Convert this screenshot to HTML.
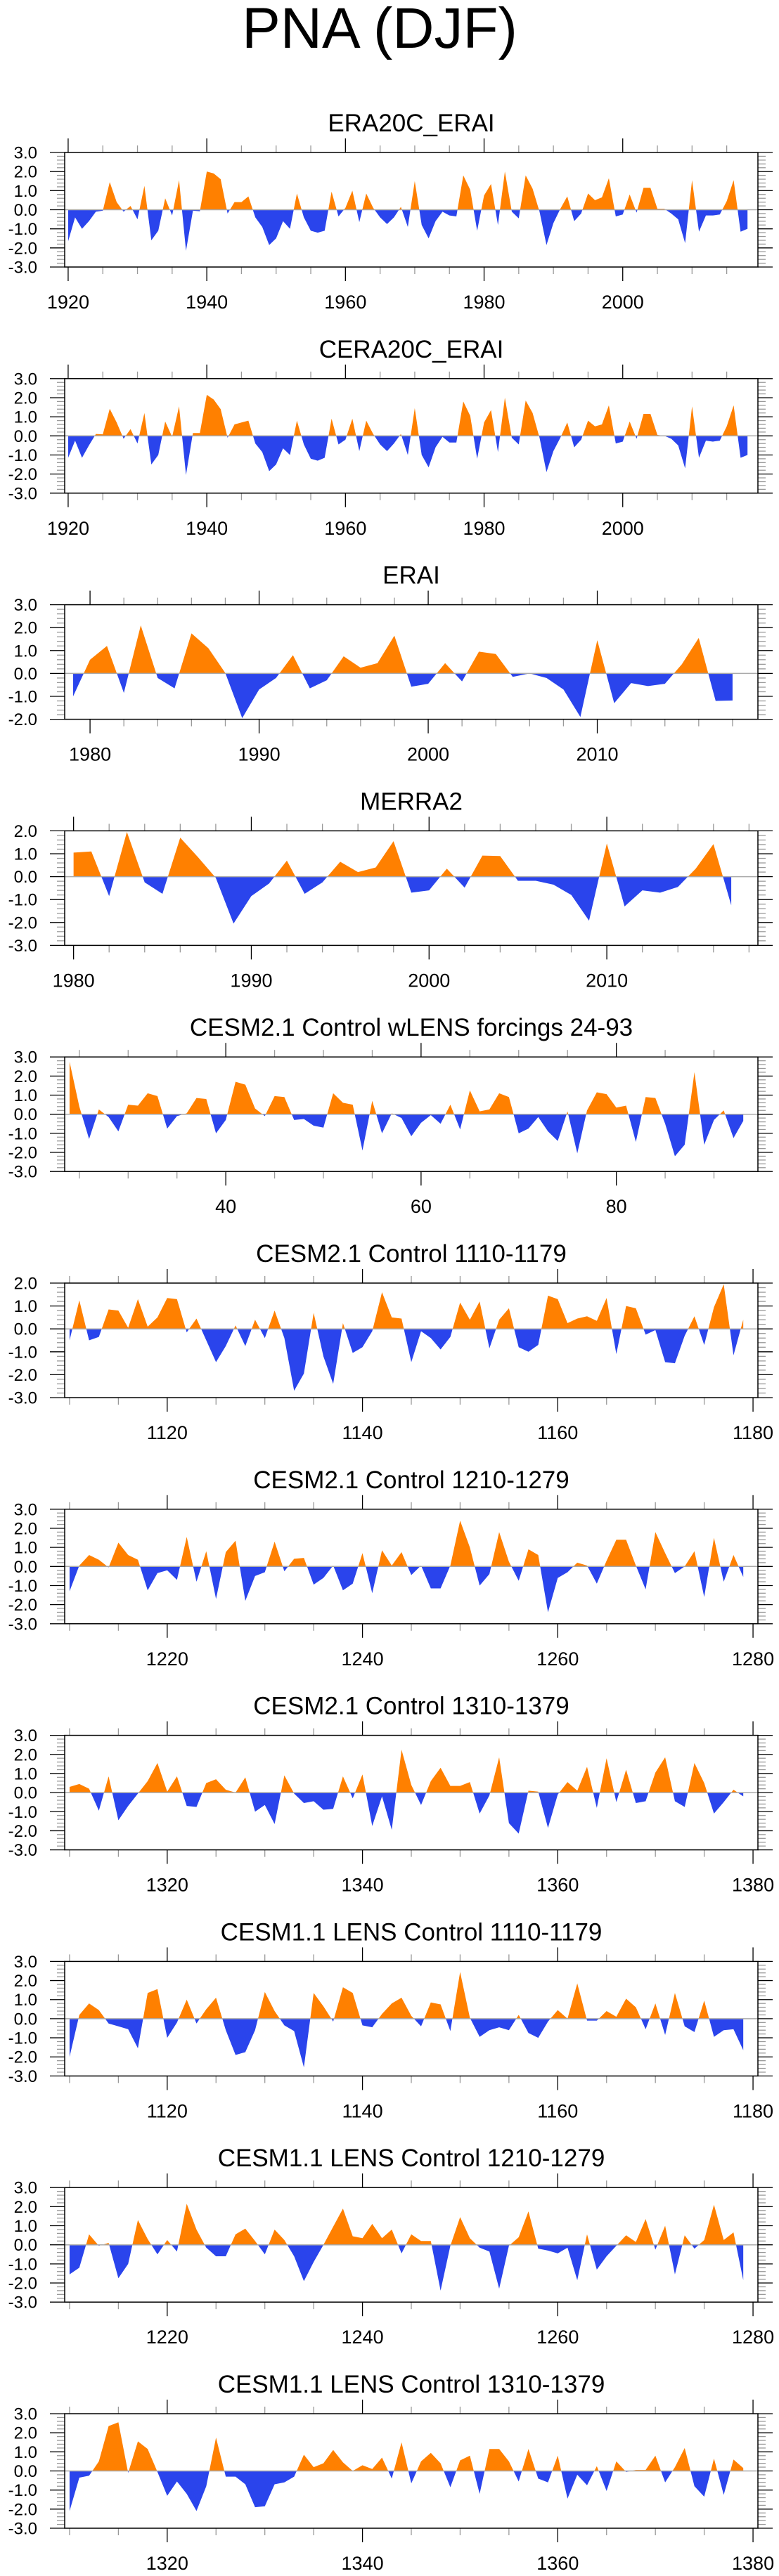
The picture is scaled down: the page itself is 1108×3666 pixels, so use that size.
<!DOCTYPE html>
<html><head><meta charset="utf-8">
<style>
html,body{margin:0;padding:0;background:#fff;}
svg{display:block;font-family:"Liberation Sans",Arial,sans-serif;}
</style></head>
<body>
<svg id="fig" width="1108" height="3666" viewBox="0 0 1108 3666" xmlns="http://www.w3.org/2000/svg">
<rect x="0" y="0" width="1108" height="3666" fill="#fff"/>
<text x="540" y="68" font-size="82" text-anchor="middle" fill="#000">PNA (DJF)</text>
</svg>
<script>
const era20cVals=[-1.65,-0.4,-1.0,-0.6,-0.1,-0.05,1.45,0.4,-0.1,0.2,-0.5,1.25,-1.6,-1.1,0.6,-0.3,1.55,-2.15,-0.05,-0.08,2.0,1.9,1.6,-0.2,0.4,0.4,0.7,-0.4,-0.9,-1.85,-1.5,-0.6,-1.0,0.85,-0.4,-1.1,-1.2,-1.1,0.95,-0.35,0.1,1.0,-0.65,0.85,0.1,-0.4,-0.75,-0.4,0.15,-0.9,1.5,-0.8,-1.5,-0.6,-0.1,-0.3,-0.35,1.8,1.05,-1.1,0.75,1.35,-0.8,2.0,-0.1,-0.45,1.8,1.1,-0.1,-1.85,-0.7,0.05,0.7,-0.6,-0.2,0.85,0.5,0.65,1.65,-0.35,-0.25,0.8,-0.15,1.15,1.15,0.05,0.05,-0.2,-0.5,-1.75,1.55,-1.15,-0.3,-0.3,-0.25,0.45,1.55,-1.15,-1.0];
const cera20cVals=[-1.15,-0.25,-1.15,-0.5,0.1,0.08,1.42,0.7,-0.15,0.35,-0.4,1.2,-1.5,-1.0,0.75,-0.05,1.55,-2.05,0.15,0.15,2.15,1.9,1.4,-0.1,0.6,0.7,0.8,-0.4,-0.85,-1.85,-1.5,-0.65,-1.0,0.8,-0.45,-1.2,-1.3,-1.15,0.9,-0.45,-0.2,0.9,-0.8,0.8,0.1,-0.45,-0.8,-0.4,0.1,-1.0,1.45,-1.0,-1.65,-0.6,-0.05,-0.35,-0.35,1.8,1.05,-1.2,0.7,1.35,-0.85,2.0,-0.1,-0.45,1.85,1.2,-0.1,-1.9,-0.8,-0.1,0.7,-0.6,-0.2,0.8,0.5,0.6,1.6,-0.4,-0.3,0.75,-0.15,1.15,1.15,0.05,0.0,-0.15,-0.5,-1.7,1.55,-1.15,-0.25,-0.3,-0.25,0.5,1.6,-1.15,-1.0];
const eraiVals=[-1.0,0.6,1.2,-0.85,2.1,-0.2,-0.65,1.75,1.1,0.02,-1.95,-0.7,-0.2,0.8,-0.65,-0.3,0.75,0.25,0.45,1.65,-0.58,-0.45,0.45,-0.35,0.95,0.85,-0.15,0.0,-0.2,-0.7,-1.9,1.45,-1.3,-0.42,-0.55,-0.45,0.4,1.55,-1.2,-1.18];
const merra2Vals=[1.05,1.1,-0.85,1.95,-0.25,-0.75,1.7,0.85,-0.05,-2.05,-0.85,-0.3,0.7,-0.75,-0.25,0.65,0.2,0.4,1.55,-0.7,-0.6,0.35,-0.48,0.92,0.9,-0.18,-0.18,-0.35,-0.8,-1.92,1.45,-1.3,-0.6,-0.7,-0.45,0.35,1.42,-1.25];
const wlensVals=[2.75,0.4,-1.3,0.25,-0.15,-0.9,0.5,0.45,1.1,0.95,-0.75,-0.1,0.05,0.85,0.8,-1.0,-0.3,1.7,1.55,0.3,-0.1,0.95,0.9,-0.3,-0.25,-0.6,-0.7,1.1,0.6,0.5,-1.9,0.7,-1.0,0.05,-0.2,-1.15,-0.45,-0.05,-0.5,0.5,-0.8,1.25,0.15,0.25,1.1,0.9,-1.0,-0.75,-0.15,-0.9,-1.4,0.15,-2.05,0.2,1.15,1.05,0.35,0.45,-1.45,0.9,0.85,-0.5,-2.2,-1.6,2.2,-1.6,-0.3,0.2,-1.25,-0.35];
const cesm2aVals=[-0.5,1.25,-0.5,-0.35,0.85,0.8,0.05,1.3,0.1,0.5,1.35,1.3,-0.15,0.45,-0.5,-1.45,-0.75,0.15,-0.75,0.4,-0.4,0.8,-0.4,-2.7,-1.95,0.7,-1.2,-2.4,0.25,-1.05,-0.8,-0.1,1.6,0.5,0.45,-1.45,-0.1,-0.4,-0.9,-0.35,1.15,0.4,1.2,-0.85,0.4,0.9,-0.8,-1.0,-0.7,1.45,1.3,0.25,0.45,0.55,0.35,1.35,-1.1,1.0,0.9,-0.25,-0.05,-1.45,-1.5,-0.3,0.55,-0.7,0.95,1.95,-1.15,0.4];
const cesm2bVals=[-1.3,0.05,0.6,0.35,-0.05,1.25,0.6,0.35,-1.25,-0.35,-0.2,-0.7,1.55,-0.8,0.8,-1.7,0.75,1.35,-1.8,-0.5,-0.3,1.3,-0.25,0.4,0.45,-0.95,-0.6,0.05,-1.25,-0.9,0.7,-1.4,0.85,0.05,0.75,-0.45,0.05,-1.15,-1.15,0.05,2.4,1.0,-1.0,-0.4,1.8,0.25,-0.75,0.9,0.6,-2.4,-0.6,-0.3,0.2,0.05,-0.9,0.3,1.4,1.4,0.05,-1.2,1.8,0.7,-0.35,0.0,0.8,-1.6,1.5,-0.8,0.6,-0.55];
const cesm2cVals=[0.3,0.45,0.2,-0.95,0.85,-1.45,-0.7,-0.05,0.6,1.55,0.05,0.85,-0.7,-0.75,0.5,0.7,0.15,0.0,0.8,-1.0,-0.65,-1.65,0.9,-0.05,-0.55,-0.45,-0.9,-0.85,0.85,-0.3,0.95,-1.75,-0.2,-1.95,2.25,0.4,-0.65,0.6,1.3,0.35,0.35,0.55,-1.1,-0.15,1.85,-1.6,-2.15,0.1,0.05,-1.85,-0.1,0.55,0.1,1.35,-0.8,1.8,-0.5,1.2,-0.55,-0.45,1.05,1.85,-0.45,-0.75,1.55,0.5,-1.1,-0.5,0.15,-0.2];
const cesm1aVals=[-2.0,0.2,0.8,0.45,-0.25,-0.4,-0.55,-1.55,1.35,1.55,-1.0,-0.2,1.0,-0.25,0.5,1.1,-0.6,-1.9,-1.75,-0.6,1.4,0.4,-0.35,-0.65,-2.55,1.35,0.65,-0.15,1.65,1.35,-0.35,-0.45,0.25,0.8,1.1,0.15,-0.4,0.85,0.75,-0.65,2.45,0.05,-0.95,-0.6,-0.45,-0.6,0.2,-0.75,-1.0,-0.15,0.45,0.0,1.85,-0.1,-0.1,0.4,0.1,1.05,0.6,-0.55,0.8,-0.85,1.35,-0.4,-0.7,0.95,-0.95,-0.6,-0.55,-1.65];
const cesm1bVals=[-1.55,-1.2,0.55,-0.05,0.1,-1.75,-1.0,1.3,0.3,-0.5,0.25,-0.35,2.15,0.8,-0.15,-0.6,-0.6,0.55,0.85,0.2,-0.5,0.8,0.25,-0.6,-1.9,-0.9,0.0,0.95,1.9,0.45,0.35,1.1,0.35,0.8,-0.45,0.55,0.2,0.2,-2.4,-0.05,1.45,0.35,-0.15,-0.35,-2.3,-0.05,0.4,1.75,-0.2,-0.3,-0.45,-0.15,-1.85,0.55,-1.3,-0.6,-0.05,0.5,0.15,1.35,-0.25,1.0,-1.55,0.5,-0.2,0.25,2.1,0.25,0.65,-1.85];
const cesm1cVals=[-2.1,-0.35,-0.25,0.5,2.35,2.55,-0.1,1.55,1.15,-0.05,-1.3,-0.55,-1.2,-2.1,-0.8,1.75,-0.3,-0.3,-0.7,-1.9,-1.85,-0.7,-0.6,-0.3,0.85,0.2,0.4,1.1,0.45,0.0,0.3,0.1,0.7,-0.4,1.5,-0.65,0.5,0.95,0.4,-0.85,0.55,0.8,-1.2,1.15,1.15,0.5,-0.55,1.15,-0.4,-0.6,0.8,-1.45,-0.2,-0.75,0.25,-1.05,0.5,-0.05,0.05,0.05,0.8,-0.6,0.2,1.2,-0.8,-1.35,0.65,-1.25,0.6,0.15];
const panelTitles=["ERA20C_ERAI","CERA20C_ERAI","ERAI","MERRA2","CESM2.1 Control wLENS forcings 24-93","CESM2.1 Control 1110-1179","CESM2.1 Control 1210-1279","CESM2.1 Control 1310-1379","CESM1.1 LENS Control 1110-1179","CESM1.1 LENS Control 1210-1279","CESM1.1 LENS Control 1310-1379"];
const panelSeries=[era20cVals,cera20cVals,eraiVals,merra2Vals,wlensVals,cesm2aVals,cesm2bVals,cesm2cVals,cesm1aVals,cesm1bVals,cesm1cVals];
const startYears=[1920,1920,1979,1980,24,1110,1210,1310,1110,1210,1310];
const yMins=[-3,-3,-2,-3,-3,-3,-3,-3,-3,-3,-3];
const yMaxs=[3,3,3,2,3,2,3,3,3,3,3];
const xLabelSteps=[20,20,10,10,20,20,20,20,20,20,20];
const xMinorSteps=[5,5,2,2,5,5,5,5,5,5,5];

const NS="http://www.w3.org/2000/svg";
const svg=document.getElementById('fig');
function mk(tag,attrs,parent){const e=document.createElementNS(NS,tag);for(const k in attrs)e.setAttribute(k,attrs[k]);(parent||svg).appendChild(e);return e;}
const X0=92,X1=1078,H=163;
panelSeries.forEach((vals,i)=>{
  const top=217+321.8*i, bot=top+H;
  const s0=startYears[i], xmin=s0-0.5, xmax=s0+vals.length+0.5-(i<2?0:0);
  const xmaxA=(i<2)?s0+99.5:(i===2?s0+40.5:(i===3?s0+38.5:s0+70.5));
  const xs=v=>X0+(v-xmin)/(xmaxA-xmin)*(X1-X0);
  const ys=v=>top+(yMaxs[i]-v)/(yMaxs[i]-yMins[i])*H;
  const g=mk('g',{});
  
  
  const t=mk('text',{x:585,y:top-30,'font-size':35,'text-anchor':'middle',fill:'#000'},g);
  t.textContent=panelTitles[i];
  
  
  const y0=ys(0);
  let d='M'+xs(s0)+','+y0;
  vals.forEach((v,k)=>{d+=' L'+xs(s0+k).toFixed(2)+','+ys(v).toFixed(2);});
  d+=' L'+xs(s0+vals.length-1)+','+y0+' Z';
  const cu='cu'+i, cl='cl'+i;
  const defs=mk('defs',{},g);
  const c1=mk('clipPath',{id:cu},defs);mk('rect',{x:X0,y:top,width:X1-X0,height:y0-top},c1);
  const c2=mk('clipPath',{id:cl},defs);mk('rect',{x:X0,y:y0,width:X1-X0,height:bot-y0},c2);
  const pu=mk('path',{d:d,fill:'#ff8000','clip-path':'url(#'+cu+')'},g);
  
  
  const pl=mk('path',{d:d,fill:'#2a44ec','clip-path':'url(#'+cl+')'},g);
  
  
  mk('line',{x1:X0,x2:X1,y1:y0,y2:y0,stroke:'#aaa','stroke-width':1.5},g);
  // y ticks
  for(let v=yMins[i];v<=yMaxs[i]+1e-6;v+=0.2){
    const yy=ys(v);const major=Math.abs(v-Math.round(v))<1e-6;
    const L=major?21:11;
    mk('line',{x1:X0-L,x2:X0,y1:yy,y2:yy,stroke:major?'#000':'#999','stroke-width':1.3},g);
    mk('line',{x1:X1,x2:X1+L,y1:yy,y2:yy,stroke:major?'#000':'#999','stroke-width':1.3},g);
    if(major){const lb=mk('text',{x:53,y:yy+8.5,'font-size':24,'text-anchor':'end',fill:'#000'},g);
      lb.textContent=Math.round(v).toFixed(1);
      
      }
  }
  // x ticks
  const st=xMinorSteps[i];
  for(let yr=Math.ceil(xmin/st)*st;yr<=xmaxA;yr+=st){
    const xx=xs(yr);const major=yr%xLabelSteps[i]===0;const L=major?20:10;
    mk('line',{x1:xx,x2:xx,y1:top-L,y2:top,stroke:major?'#000':'#999','stroke-width':1.3},g);
    mk('line',{x1:xx,x2:xx,y1:bot,y2:bot+L,stroke:major?'#000':'#999','stroke-width':1.3},g);
    if(major){const lb=mk('text',{x:xx,y:bot+59,'font-size':27,'text-anchor':'middle',fill:'#000'},g);
      lb.textContent=String(yr);
      
      }
  }
  mk('rect',{x:X0,y:top,width:X1-X0,height:H,fill:'none',stroke:'#000','stroke-width':1.5},g);
});
</script>
</body></html>
